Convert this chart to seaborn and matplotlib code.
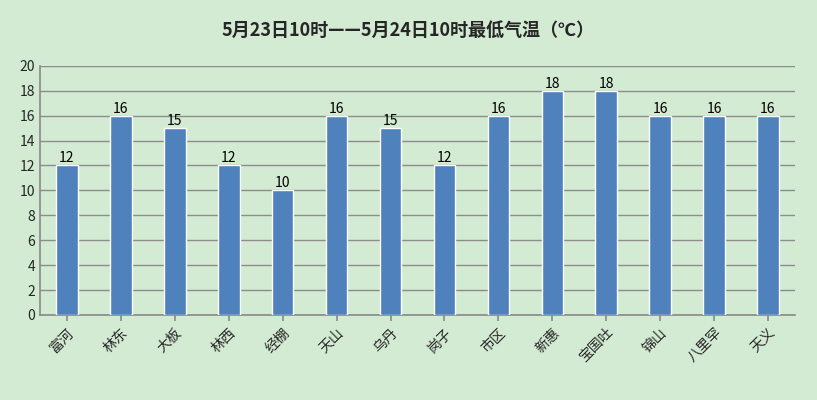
import matplotlib
matplotlib.use("Agg")
import matplotlib.pyplot as plt
import seaborn as sns
import pandas as pd

stations = ['富河', '林东', '大板', '林西', '经棚', '天山', '乌丹', '岗子', '市区', '新惠',
            '宝国吐', '锦山', '八里罕', '天义']
min_temp = [12, 16, 15, 12, 10, 16, 15, 12, 16, 18, 18, 16, 16, 16]

sns.set_theme(style="white")
plt.rcParams['font.family'] = ['Noto Sans CJK SC', 'DejaVu Sans']

bg = '#d3ead3'
df = pd.DataFrame({'station': stations, 'temp': min_temp})

fig = plt.figure(figsize=(8.17, 4.0), dpi=100, facecolor=bg)
ax = fig.add_axes([0.049, 0.2125, 0.924, 0.623])
ax.set_facecolor(bg)
sns.barplot(data=df, x='station', y='temp', color='#4f81bd', saturation=1,
            width=0.4, ax=ax, zorder=3)
for c in ax.containers:
    ax.bar_label(c, fontsize=10, padding=0, color='black')

ax.set_ylim(0, 20)
ax.set_yticks(range(0, 21, 2))
ax.yaxis.grid(True, color='#8c8c8c', linewidth=1, zorder=0)
ax.set_xlabel('')
ax.set_ylabel('')
ax.tick_params(axis='y', labelsize=10, length=0)
ax.tick_params(axis='x', labelsize=10, length=4, color='#8c8c8c', bottom=True)
plt.setp(ax.get_xticklabels(), rotation=45, ha='right', rotation_mode='anchor')
for s in ['top', 'right']:
    ax.spines[s].set_visible(False)
for s in ['left', 'bottom']:
    ax.spines[s].set_color('#8c8c8c')

fig.text(0.5, 0.925, '5月23日10时——5月24日10时最低气温（℃）', ha='center', va='center',
         fontsize=13, fontweight='bold')
fig.savefig('out.png', dpi=100, facecolor=bg)
